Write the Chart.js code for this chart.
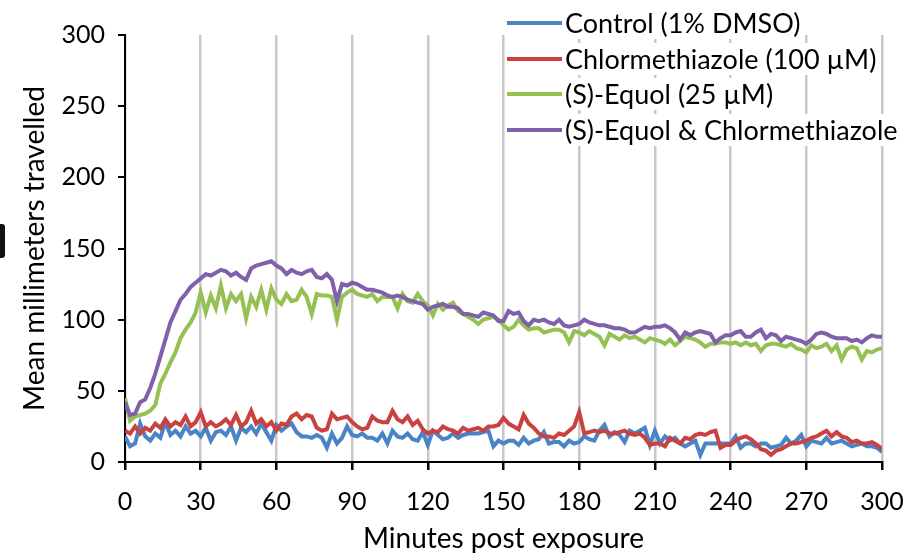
<!DOCTYPE html>
<html lang="en">
<head>
  <meta charset="UTF-8" />
  <title>Mean millimeters travelled</title>
  <script src="https://cdn.jsdelivr.net/npm/chart.js"></script>
  <style>
    body { margin: 0; background: #fff; }
    #wrap { position: relative; width: 908px; height: 558px; }
    #legend {
      position: absolute; left: 507px; top: 7px;
      font-family: Lato, sans-serif; font-size: 27px; color: #000;
    }
    .item { display: flex; align-items: center; height: 32px; margin-bottom: 3.5px; }
    .item span { background: #fff; padding-right: 2px; line-height: 32px; }
    .swatch { width: 55px; height: 4px; margin-right: 3px; }
    #mark { position: absolute; left: 0; top: 224px; width: 5px; height: 34px; background: #111; border-radius: 0 3px 3px 0; }
  </style>
</head>
<body>
  <div id="wrap">
    <canvas id="chart" width="908" height="558"></canvas>
    <div id="legend"></div>
    <div id="mark"></div>
  </div>

  <script>
    const minutes = [0,2,4,6,8,10,12,14,16,18,20,22,24,26,28,30,32,34,36,38,40,42,44,46,48,50,
      52,54,56,58,60,62,64,66,68,70,72,74,76,78,80,82,84,86,88,90,92,94,96,98,100,
      102,104,106,108,110,112,114,116,118,120,122,124,126,128,130,132,134,136,138,140,142,144,146,148,150,
      152,154,156,158,160,162,164,166,168,170,172,174,176,178,180,182,184,186,188,190,192,194,196,198,200,
      202,204,206,208,210,212,214,216,218,220,222,224,226,228,230,232,234,236,238,240,242,244,246,248,250,
      252,254,256,258,260,262,264,266,268,270,272,274,276,278,280,282,284,286,288,290,292,294,296,298,300];

    const control = [18,11,13,27,18,15,20,17,28,19,22,18,25,20,22,18,24,15,21,22,19,25,15,24,21,25,
      20,27,21,15,26,22,25,27,21,18,18,17,19,17,10,20,13,17,25,19,18,20,17,17,15,
      20,13,22,18,17,20,16,15,21,12,22,19,16,17,20,17,19,20,20,20,21,22,11,15,13,
      15,15,12,17,13,15,16,21,13,14,14,11,15,13,14,18,16,15,22,26,18,21,19,14,22,
      20,22,24,12,22,13,18,15,17,13,11,13,15,5,13,13,13,13,13,13,18,10,13,13,11,
      13,13,10,11,12,17,13,15,19,11,15,14,13,17,13,14,15,13,11,12,13,11,11,10,7];

    const chlormethiazole = [22,20,25,20,24,22,27,24,30,25,28,26,32,25,28,35,25,28,25,27,30,26,33,25,28,36,
      27,30,25,28,22,27,26,32,34,30,33,32,24,22,23,34,30,31,32,28,25,23,24,32,29,
      28,28,36,30,28,32,26,29,23,20,22,21,25,23,22,20,24,22,23,24,22,25,25,26,31,
      27,25,23,33,27,24,20,18,18,17,20,19,22,25,35,20,21,22,21,22,20,20,21,22,20,
      19,20,17,12,13,13,11,17,15,13,17,16,19,20,19,21,22,10,12,12,15,17,18,16,13,
      9,8,5,8,9,11,13,13,14,15,17,18,20,22,18,21,18,17,14,15,13,13,14,12,9];

    const equol = [45,29,32,33,34,36,40,55,62,70,77,87,93,98,105,119,105,117,108,124,108,118,113,118,101,116,
      109,121,107,122,114,111,118,113,114,121,116,104,118,117,117,116,100,116,119,121,118,117,116,118,113,
      116,116,116,108,118,113,112,118,113,110,103,111,107,110,112,106,104,102,100,97,100,101,102,100,96,
      93,95,100,96,93,94,94,91,92,93,93,91,84,92,91,89,92,90,88,82,90,88,86,89,87,
      88,86,84,87,86,85,83,86,82,85,88,87,86,84,81,83,83,84,84,83,84,82,84,82,83,
      78,82,83,83,82,81,83,80,79,77,82,80,81,83,78,82,72,79,81,80,72,78,77,79,80];

    const equolChlor = [42,33,34,42,44,52,62,74,86,98,106,114,118,123,126,129,132,131,133,135,134,131,133,130,128,136,
      138,139,140,141,138,136,132,135,133,132,134,135,130,129,132,128,113,125,124,126,125,123,121,121,120,
      119,117,116,117,116,114,113,112,111,107,109,110,111,109,109,108,104,104,103,102,105,104,103,99,99,
      106,104,105,99,96,100,99,100,98,97,100,96,95,96,97,100,98,97,96,96,95,94,94,93,91,
      91,93,95,94,95,95,96,94,91,86,91,89,91,92,91,90,84,87,89,89,91,92,88,88,91,
      93,87,90,89,85,88,87,86,85,83,86,90,91,90,88,87,87,87,85,86,84,87,89,88,88];

    const seriesNames = ['Control (1% DMSO)', 'Chlormethiazole (100 µM)', '(S)-Equol (25 µM)', '(S)-Equol & Chlormethiazole'];
    const seriesValues = [control, chlormethiazole, equol, equolChlor];
    const seriesColors = ['#4a84c6', '#c9423f', '#94c152', '#8060aa'];

    const FONT = 'Lato, "Open Sans", sans-serif';

    const datasets = seriesValues.map((vals, i) => ({
      label: seriesNames[i],
      data: vals.map((v, j) => ({ x: minutes[j], y: v })),
      borderColor: seriesColors[i],
      backgroundColor: seriesColors[i],
      borderWidth: 4,
      pointRadius: 0,
      tension: 0,
      fill: false,
      order: 4 - i
    }));

    const ctx = document.getElementById('chart').getContext('2d');
    const chart = new Chart(ctx, {
      type: 'line',
      data: { datasets: datasets },
      options: {
        responsive: false,
        animation: false,
        layout: { padding: { top: 35, right: 26, left: 0, bottom: 0 } },
        plugins: { legend: { display: false }, tooltip: { enabled: false } },
        scales: {
          x: {
            type: 'linear', min: 0, max: 300,
            afterFit: (scale) => {
              scale.height = 96;
              scale.paddingLeft = 0;
              scale.paddingRight = 0;
            },
            ticks: { stepSize: 30, color: '#000', padding: 17, maxRotation: 0, font: { family: FONT, size: 25 } },
            grid: { color: '#c8c8c8', lineWidth: 2.5, tickColor: '#000', tickLength: 8 },
            border: { color: '#000', width: 2 },
            title: { display: true, text: 'Minutes post exposure', color: '#000', padding: { top: 0, bottom: 2 }, font: { family: FONT, size: 28 } }
          },
          y: {
            min: 0, max: 300,
            afterFit: (scale) => { scale.width = 125; },
            ticks: { stepSize: 50, color: '#000', padding: 13, font: { family: FONT, size: 25 } },
            grid: { drawOnChartArea: false, tickColor: '#000', tickLength: 7, lineWidth: 2 },
            border: { color: '#000', width: 2 },
            title: { display: true, text: 'Mean millimeters travelled', color: '#000', padding: { top: 18, bottom: 0 }, font: { family: FONT, size: 28 } }
          }
        }
      }
    });

    // legend in the top right, like the original
    const legend = document.getElementById('legend');
    seriesNames.forEach((name, i) => {
      const row = document.createElement('div');
      row.className = 'item';
      row.innerHTML = '<div class="swatch" style="background:' + seriesColors[i] + '"></div><span></span>';
      row.querySelector('span').textContent = name;
      legend.appendChild(row);
    });
  </script>
</body>
</html>
